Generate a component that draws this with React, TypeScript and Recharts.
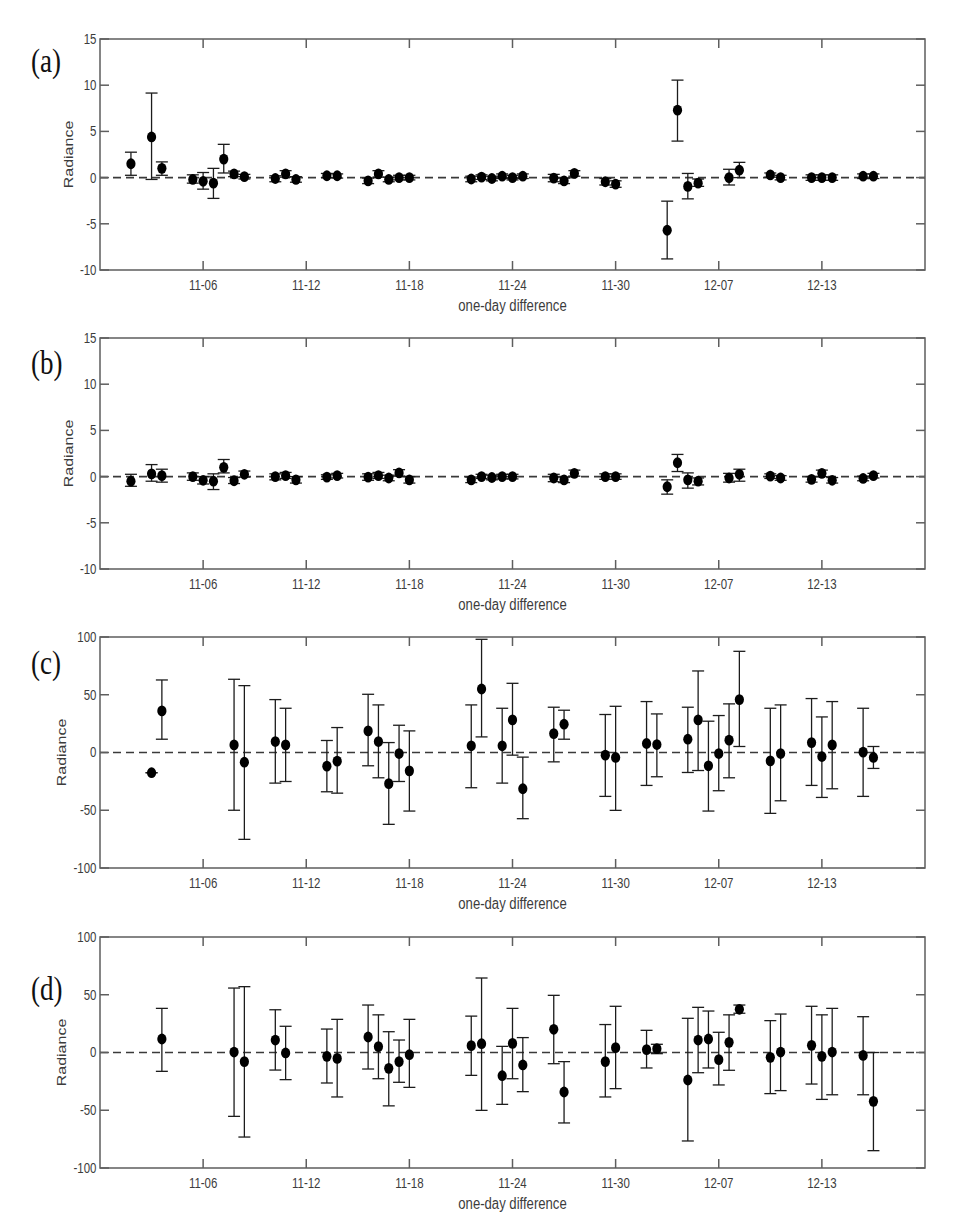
import { ScatterChart, Scatter, XAxis, YAxis, ErrorBar, ReferenceLine, ReferenceArea } from "recharts";

// x is the sample index; the date labels sit on every tenth index
const dayTicks = [10, 20, 30, 40, 50, 60, 70];
const dayLabels = ["11-06", "11-12", "11-18", "11-24", "11-30", "12-07", "12-13"];

const smallTicks = [-10, -5, 0, 5, 10, 15];
const bigTicks = [-100, -50, 0, 50, 100];

// (a)
const idxA = [3, 5, 6, 9, 10, 11, 12, 13, 14, 17, 18, 19, 22, 23, 26, 27, 28, 29, 30, 36, 37, 38, 39, 40, 41, 44, 45, 46, 49, 50, 55, 56, 57, 58, 61, 62, 65, 66, 69, 70, 71, 74, 75];
const valA = [1.5, 4.4, 1.0, -0.2, -0.4, -0.6, 2.0, 0.4, 0.1, -0.1, 0.4, -0.2, 0.2, 0.2, -0.35, 0.4, -0.2, 0.0, 0.0, -0.15, 0.05, -0.1, 0.15, 0.0, 0.15, -0.05, -0.35, 0.45, -0.45, -0.7, -5.7, 7.3, -0.95, -0.6, 0.0, 0.8, 0.3, 0.0, 0.0, 0.0, 0.0, 0.15, 0.15];
const lowA = [0.25, -0.2, 0.25, -0.6, -1.25, -2.25, 0.5, 0.1, -0.15, -0.45, 0.05, -0.5, 0.0, -0.05, -0.65, 0.05, -0.45, -0.25, -0.25, -0.45, -0.2, -0.35, -0.1, -0.25, -0.1, -0.45, -0.65, 0.15, -0.8, -1.05, -8.8, 3.95, -2.3, -0.95, -0.8, 0.0, 0.05, -0.25, -0.3, -0.3, -0.3, -0.1, -0.1];
const highA = [2.75, 9.15, 1.7, 0.3, 0.55, 1.0, 3.6, 0.7, 0.35, 0.2, 0.75, 0.1, 0.45, 0.4, -0.05, 0.75, 0.05, 0.25, 0.25, 0.15, 0.3, 0.15, 0.4, 0.25, 0.4, 0.35, -0.05, 0.75, -0.1, -0.35, -2.55, 10.55, 0.45, -0.15, 0.9, 1.65, 0.5, 0.25, 0.3, 0.3, 0.3, 0.4, 0.4];

// (b)
const idxB = [3, 5, 6, 9, 10, 11, 12, 13, 14, 17, 18, 19, 22, 23, 26, 27, 28, 29, 30, 36, 37, 38, 39, 40, 44, 45, 46, 49, 50, 55, 56, 57, 58, 61, 62, 65, 66, 69, 70, 71, 74, 75];
const valB = [-0.5, 0.3, 0.1, 0.0, -0.4, -0.5, 1.0, -0.45, 0.25, 0.0, 0.1, -0.35, -0.05, 0.1, -0.05, 0.1, -0.15, 0.4, -0.35, -0.35, 0.0, -0.1, 0.0, 0.0, -0.15, -0.35, 0.35, 0.0, 0.0, -1.1, 1.5, -0.35, -0.5, -0.15, 0.25, 0.05, -0.15, -0.3, 0.35, -0.4, -0.2, 0.1];
const lowB = [-1.05, -0.5, -0.6, -0.4, -0.8, -1.4, 0.4, -0.75, -0.05, -0.35, -0.2, -0.7, -0.3, -0.15, -0.4, -0.2, -0.45, 0.05, -0.7, -0.65, -0.2, -0.35, -0.25, -0.25, -0.55, -0.65, 0.05, -0.3, -0.3, -1.9, 0.55, -1.25, -0.9, -0.6, -0.5, -0.2, -0.4, -0.6, 0.0, -0.7, -0.45, -0.15];
const highB = [0.25, 1.3, 0.8, 0.4, 0.0, 0.3, 1.85, -0.1, 0.6, 0.3, 0.45, 0.0, 0.2, 0.35, 0.3, 0.45, 0.15, 0.75, 0.0, -0.05, 0.25, 0.15, 0.25, 0.25, 0.25, -0.05, 0.7, 0.3, 0.3, -0.35, 2.4, 0.4, -0.15, 0.35, 0.8, 0.3, 0.1, 0.0, 0.7, -0.1, 0.05, 0.35];

// (c)
const idxC = [5, 6, 13, 14, 17, 18, 22, 23, 26, 27, 28, 29, 30, 36, 37, 39, 40, 41, 44, 45, 49, 50, 53, 54, 57, 58, 59, 60, 61, 62, 65, 66, 69, 70, 71, 74, 75];
const valC = [-17.5, 36, 6.6, -8.4, 9.5, 6.6, -11.8, -7.5, 18.7, 9.5, -27, -0.9, -15.9, 5.8, 55, 5.8, 28.2, -31.4, 16.4, 24.5, -2.3, -4.3, 7.8, 6.9, 11.5, 28.2, -11.5, -0.9, 10.7, 45.8, -7.2, -0.9, 8.6, -3.5, 6.6, 0.3, -4.3];
const lowC = [-17.5, 11.5, -50, -75.2, -26.5, -25.1, -34, -35.2, -11.5, -21.9, -62.2, -25.1, -50.7, -30.5, 13.5, -26.5, -2.3, -57.3, -8.1, 11.5, -38, -50.1, -28.5, -21, -17.3, -15.6, -50.7, -33.1, -21.9, 5.2, -52.7, -41.8, -28.5, -38.9, -31.4, -38, -13.8];
const highC = [-17.5, 62.8, 63.4, 57.9, 45.8, 38.3, 10.4, 21.6, 50.4, 41.2, 8.6, 23.6, 18.7, 41.2, 98, 38.3, 59.9, -4, 39.2, 36.6, 32.9, 40, 44.1, 33.4, 39.2, 70.6, 27.1, 32, 42.1, 87.6, 38.3, 41.2, 46.7, 30.8, 44.1, 38.3, 5.2];

// (d)
const idxD = [6, 13, 14, 17, 18, 22, 23, 26, 27, 28, 29, 30, 36, 37, 39, 40, 41, 44, 45, 49, 50, 53, 54, 57, 58, 59, 60, 61, 62, 65, 66, 69, 70, 71, 74, 75];
const valD = [11.7, 0.4, -7.9, 10.8, -0.4, -3.3, -5.1, 13.4, 5.1, -13.7, -7.9, -1.9, 5.9, 7.6, -20.1, 7.9, -10.8, 20.1, -34.2, -7.9, 4.2, 2.5, 3.3, -23.8, 10.8, 11.7, -6.2, 8.8, 37.4, -4.2, 0.4, 6.2, -3.3, 0.4, -2.5, -42.3];
const lowD = [-16.3, -55.3, -73.2, -15.2, -23.5, -26.4, -38.5, -14.3, -22.7, -46.2, -25.8, -30.2, -19.8, -50.1, -44.9, -22.7, -33.9, -9.7, -61, -38.5, -31.3, -13.4, -1, -76.6, -17.5, -13.4, -28.1, -15.4, 34, -35.6, -33, -27.3, -40.6, -36.6, -36.6, -85];
const highD = [38.2, 55.8, 57, 37, 22.7, 20.3, 28.7, 41.1, 32.6, 18, 10.8, 28.7, 31.5, 64.5, 5.3, 38.2, 12.9, 49.5, -7.9, 24.2, 40, 19.2, 7.1, 29.6, 39.1, 35.9, 17.5, 32.6, 41.1, 27.6, 33.3, 40, 32.6, 38.2, 31, 0];

const SQ = 0.82; // the original figure is squeezed horizontally
const INK = "#3c3c3c";
const FRAME = "#5e5e5e";
const SANS = "'Liberation Sans', Arial, sans-serif";
const PLOT_W = 825;
const PLOT_H = 231;
const TICK = 9;

function build(idx: number[], val: number[], low: number[], high: number[]) {
  return idx.map((x, i) => ({ x, y: val[i], err: [val[i] - low[i], high[i] - val[i]] }));
}

// tick labels plus inward tick marks on both sides of the box (matlab style)
const XTick = (p: any) => (
  <g>
    <line x1={p.x} y1={p.y} x2={p.x} y2={p.y - TICK} stroke={FRAME} strokeWidth={1.5} />
    <line x1={p.x} y1={p.y - PLOT_H} x2={p.x} y2={p.y - PLOT_H + TICK} stroke={FRAME} strokeWidth={1.5} />
    <g transform={`translate(${p.x},${p.y + 20}) scale(${SQ},1)`}>
      <text textAnchor="middle" fontFamily={SANS} fontSize={14} fill={INK}>
        {dayLabels[dayTicks.indexOf(p.payload.value)]}
      </text>
    </g>
  </g>
);

const YTick = (p: any) => (
  <g>
    <line x1={p.x} y1={p.y} x2={p.x + TICK} y2={p.y} stroke={FRAME} strokeWidth={1.5} />
    <line x1={p.x + PLOT_W} y1={p.y} x2={p.x + PLOT_W - TICK} y2={p.y} stroke={FRAME} strokeWidth={1.5} />
    <g transform={`translate(${p.x - 3.5},${p.y}) scale(${SQ},1)`}>
      <text textAnchor="end" dy="0.35em" fontFamily={SANS} fontSize={14} fill={INK}>
        {p.payload.value}
      </text>
    </g>
  </g>
);

const Dot = (p: any) => <ellipse cx={p.cx} cy={p.cy} rx={4.6} ry={5.4} fill="#000" />;

type PanelProps = {
  top: number;
  tag: string;
  tagY: number;
  radX: number;
  rows: { x: number; y: number; err: number[] }[];
  yDomain: number[];
  yTicks: number[];
};

function Panel({ top, tag, tagY, radX, rows, yDomain, yTicks }: PanelProps) {
  return (
    <div style={{ position: "absolute", left: 0, top, width: 960, height: 322 }}>
      <ScatterChart width={960} height={322} margin={{ top: 39, right: 35, bottom: 0, left: 0 }}>
        <XAxis
          type="number"
          dataKey="x"
          domain={[0, 80]}
          ticks={dayTicks}
          interval={0}
          allowDataOverflow
          height={52}
          tickSize={0}
          tickMargin={0}
          axisLine={false}
          tickLine={false}
          tick={(p: any) => <XTick {...p} />}
          label={(p: any) => {
            const vb = p.viewBox;
            return (
              <g transform={`translate(${vb.x + vb.width / 2},${vb.y + 41}) scale(${SQ},1)`}>
                <text textAnchor="middle" fontFamily={SANS} fontSize={16} fill={INK}>
                  one-day difference
                </text>
              </g>
            );
          }}
        />
        <YAxis
          type="number"
          dataKey="y"
          domain={yDomain}
          ticks={yTicks}
          interval={0}
          allowDataOverflow
          width={100}
          tickSize={0}
          tickMargin={0}
          axisLine={false}
          tickLine={false}
          tick={(p: any) => <YTick {...p} />}
          label={(p: any) => {
            const vb = p.viewBox;
            return (
              <g transform={`translate(${radX},${vb.y + vb.height / 2}) scale(${SQ},1) rotate(-90)`}>
                <text textAnchor="middle" dy="0.35em" fontFamily={SANS} fontSize={16} fill={INK}>
                  Radiance
                </text>
              </g>
            );
          }}
        />
        <ReferenceArea x1={0} x2={80} y1={yDomain[0]} y2={yDomain[1]} fill="none" stroke={FRAME} strokeWidth={1.5} ifOverflow="visible" />
        <ReferenceLine y={0} stroke="#3a3a3a" strokeWidth={1.6} strokeDasharray="8 5" />
        <Scatter data={rows} dataKey="y" isAnimationActive={false} shape={Dot}>
          <ErrorBar dataKey="err" direction="y" width={6} stroke="#1c1c1c" strokeWidth={1.3} isAnimationActive={false} />
        </Scatter>
      </ScatterChart>
      <svg width={100} height={140} style={{ position: "absolute", left: 0, top: 0 }}>
        <g transform={`translate(31,${tagY}) scale(${SQ},1)`}>
          <text fontFamily="'Liberation Serif', 'Times New Roman', serif" fontSize={33} fill="#111">
            {tag}
          </text>
        </g>
      </svg>
    </div>
  );
}

export default function App() {
  return (
    <div style={{ position: "relative", width: 960, height: 1220, margin: "-8px 0 0 -8px", background: "#fff" }}>
      <Panel top={0} tag="(a)" tagY={72} radX={68.5} rows={build(idxA, valA, lowA, highA)} yDomain={[-10, 15]} yTicks={smallTicks} />
      <Panel top={299} tag="(b)" tagY={75} radX={68.5} rows={build(idxB, valB, lowB, highB)} yDomain={[-10, 15]} yTicks={smallTicks} />
      <Panel top={598} tag="(c)" tagY={76} radX={61.5} rows={build(idxC, valC, lowC, highC)} yDomain={[-100, 100]} yTicks={bigTicks} />
      <Panel top={898} tag="(d)" tagY={102} radX={61.5} rows={build(idxD, valD, lowD, highD)} yDomain={[-100, 100]} yTicks={bigTicks} />
    </div>
  );
}
